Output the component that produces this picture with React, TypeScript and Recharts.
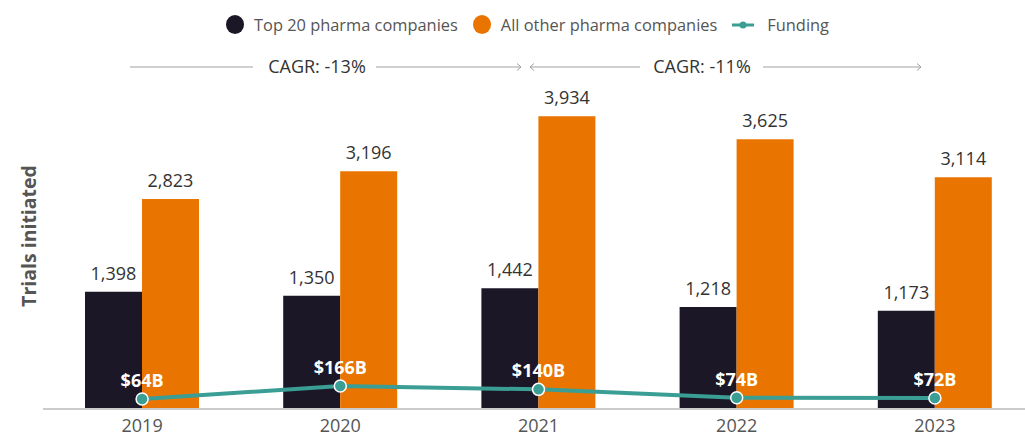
import { ComposedChart, Bar, Line, XAxis, YAxis, LabelList } from "recharts"

const years = ["2019", "2020", "2021", "2022", "2023"]
const top20 = [1398, 1350, 1442, 1218, 1173]
const others = [2823, 3196, 3934, 3625, 3114]
const funding = [64, 166, 140, 74, 72]
const cagrLabels = ["CAGR: -13%", "CAGR: -11%"]

const data = years.map((year, i) => ({
  year,
  top20: top20[i],
  others: others[i],
  funding: funding[i],
}))

const DARK = "#1c1727"
const ORANGE = "#e97500"
const TEAL = "#3a9e94"
const FONT = "'Open Sans', sans-serif"

function Arrow({ x1, x2, y, left, right }: { x1: number; x2: number; y: number; left?: boolean; right?: boolean }) {
  return (
    <g stroke="#a0a0a0" strokeWidth={1} fill="none">
      <line x1={x1} y1={y} x2={x2} y2={y} />
      {right && <polyline points={`${x2 - 4},${y - 3.5} ${x2},${y} ${x2 - 4},${y + 3.5}`} />}
      {left && <polyline points={`${x1 + 4},${y - 3.5} ${x1},${y} ${x1 + 4},${y + 3.5}`} />}
    </g>
  )
}

function LegendItem({ color, label, line }: { color: string; label: string; line?: boolean }) {
  return (
    <div style={{ display: "flex", alignItems: "center", marginRight: 15 }}>
      {line ? (
        <svg width={22} height={12} style={{ marginRight: 13 }}>
          <line x1={0} y1={6} x2={22} y2={6} stroke={color} strokeWidth={3} />
          <circle cx={11} cy={6} r={3.5} fill={color} />
        </svg>
      ) : (
        <span
          style={{
            width: 18,
            height: 19,
            borderRadius: "50%",
            background: color,
            display: "inline-block",
            marginRight: 10,
          }}
        />
      )}
      <span style={{ color: "#555", fontSize: 16.4 }}>{label}</span>
    </div>
  )
}

const fmt = (v: any) => Number(v).toLocaleString("en-US")

export default function App() {
  return (
    <div style={{ position: "relative", width: 1025, height: 436, overflow: "hidden", fontFamily: FONT }}>
      <style>{"body{margin:0;overflow:hidden}"}</style>
      <ComposedChart
        width={1040}
        height={436}
        data={data}
        margin={{ top: 100, right: 6, left: 43, bottom: 0 }}
        barCategoryGap={42}
        barGap={0}
        style={{ fontFamily: FONT }}
      >
        <XAxis
          dataKey="year"
          height={27}
          tickLine={false}
          tickSize={0}
          tickMargin={10}
          axisLine={{ stroke: "#cccccc", strokeWidth: 2 }}
          tick={{ fill: "#555", fontSize: 18 }}
        />
        <YAxis yAxisId="top" hide domain={[0, 3687]} />
        <YAxis yAxisId="other" hide domain={[0, 4153]} />
        <YAxis yAxisId="fund" hide domain={[-14, 2410]} />
        <Bar dataKey="top20" yAxisId="top" fill={DARK} isAnimationActive={false}>
          <LabelList dataKey="top20" position="top" offset={12} fill="#333" fontSize={18} formatter={fmt} />
        </Bar>
        <Bar dataKey="others" yAxisId="other" fill={ORANGE} isAnimationActive={false}>
          <LabelList dataKey="others" position="top" offset={12} fill="#333" fontSize={18} formatter={fmt} />
        </Bar>
        <Line
          dataKey="funding"
          yAxisId="fund"
          stroke={TEAL}
          strokeWidth={4}
          dot={{ r: 6, fill: TEAL, stroke: "#fff", strokeWidth: 1.5 }}
          isAnimationActive={false}
        >
          <LabelList
            dataKey="funding"
            position="top"
            offset={12}
            fill="#fff"
            fontSize={18}
            fontWeight="bold"
            formatter={(v: any) => `$${v}B`}
          />
        </Line>
      </ComposedChart>

      <div
        style={{
          position: "absolute",
          left: 226,
          top: 13,
          display: "flex",
          alignItems: "center",
        }}
      >
        <LegendItem color={DARK} label="Top 20 pharma companies" />
        <LegendItem color={ORANGE} label="All other pharma companies" />
        <LegendItem color={TEAL} label="Funding" line />
      </div>

      <svg
        width={1025}
        height={436}
        style={{ position: "absolute", left: 0, top: 0, pointerEvents: "none", fontFamily: FONT }}
      >
        <Arrow x1={130} x2={253} y={67} />
        <text x={317} y={66} textAnchor="middle" dominantBaseline="central" fontSize={18} fill="#333">
          {cagrLabels[0]}
        </text>
        <Arrow x1={376} x2={521} y={67} right />
        <Arrow x1={530} x2={640} y={67} left />
        <Arrow x1={763} x2={921} y={67} right />
        <text x={702} y={66} textAnchor="middle" dominantBaseline="central" fontSize={18} fill="#333">
          {cagrLabels[1]}
        </text>
        <text
          x={28}
          y={236}
          transform="rotate(-90 28 236)"
          textAnchor="middle"
          dominantBaseline="central"
          fontSize={19.5}
          fontWeight="bold"
          fill="#555"
        >
          Trials initiated
        </text>
      </svg>
    </div>
  )
}
